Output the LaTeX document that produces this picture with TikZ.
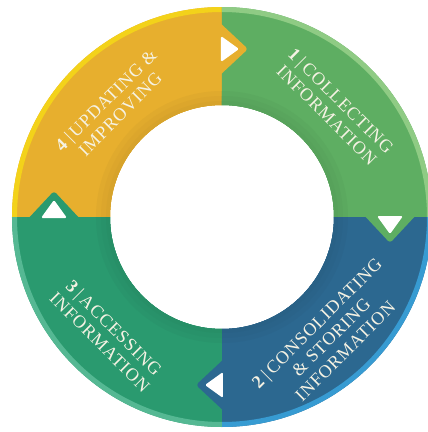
\documentclass[tikz,border=0pt]{standalone}
\usepackage{fontspec}
\setmainfont[LetterSpace=5]{Liberation Serif}
\definecolor{cyel}{HTML}{E7AF2E}
\definecolor{cyelrim}{HTML}{F3D21A}
\definecolor{cgrn}{HTML}{5EAE62}
\definecolor{cgrnrim}{HTML}{8FCB84}
\definecolor{cblu}{HTML}{2C6890}
\definecolor{cblurim}{HTML}{379BD2}
\definecolor{ctel}{HTML}{2A9A6F}
\definecolor{ctelrim}{HTML}{55B893}
\definecolor{ctxt}{HTML}{F5F2E3}
\newcommand\ringband[5]{%
  \fill[#5] (#1:#3) arc[start angle=#1,end angle=#2,radius=#3] -- (#2:#4) arc[start angle=#2,end angle=#1,radius=#4] -- cycle;
}
\newcommand\ringpart[4]{%
  \ringband{#1}{#2}{210}{112}{#3}
  \ringband{#1}{#2}{210}{205}{#4}
  \ringband{#1}{#2}{126}{112}{#3!97!black}
  \ringband{#1}{#2}{121}{112}{#3!95!black}
  \ringband{#1}{#2}{116}{112}{#3!93!black}
}
\newcommand\tabmark[2]{%
  \begin{scope}[rotate=#1]
    \fill[#2, rounded corners=3] (140,4) -- (168,-26) -- (196,4) -- cycle;
    \fill[white, rounded corners=1.5] (155,1) -- (168,-17) -- (181,1) -- cycle;
  \end{scope}
}
\begin{document}
\begin{tikzpicture}[x=1pt,y=1pt,
  lbl/.style={text=ctxt, align=center, inner sep=0pt,
    font=\fontsize{18}{20}\selectfont}]
\useasboundingbox (-222,-215) rectangle (206,217);
\clip (-222,-215) rectangle (206,217);
\ringpart{90}{180}{cyel}{cyelrim}
\ringpart{0}{90}{cgrn}{cgrnrim}
\ringpart{-90}{0}{cblu}{cblurim}
\ringpart{180}{270}{ctel}{ctelrim}
\tabmark{90}{cyel}
\tabmark{0}{cgrn}
\tabmark{-90}{cblu}
\tabmark{180}{ctel}
\node[lbl, rotate=-45] (s1) at (112,109) {\textbf{1}\,|\,COLLECTING\\INFORMATION};
\node[lbl, rotate=45] (s2) at (109,-120) {\textbf{2}\,|\,CONSOLIDATING\\\& STORING\\INFORMATION};
\node[lbl, rotate=-45] (s3) at (-115,-118) {\textbf{3}\,|\,ACCESSING\\INFORMATION};
\node[lbl, rotate=45] (s4) at (-109,110) {\textbf{4}\,|\,UPDATING \&\\IMPROVING};
\end{tikzpicture}
\end{document}
